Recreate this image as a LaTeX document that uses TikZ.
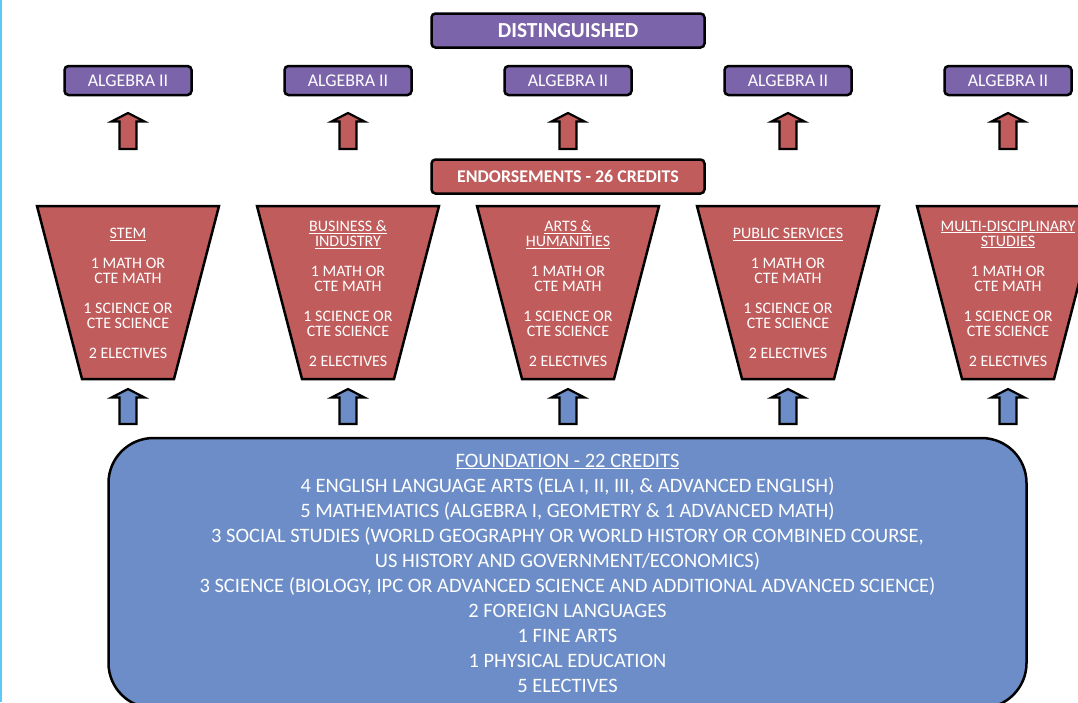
\documentclass[tikz,border=0pt]{standalone}
\usepackage{fontspec}
\setmainfont{Carlito}
\usetikzlibrary{positioning, calc}

\definecolor{distpurple}{HTML}{7B64AA}
\definecolor{endred}{HTML}{C05C5C}
\definecolor{foundblue}{HTML}{6C8DC7}
\definecolor{edgeblue}{HTML}{5BC8F5}

\tikzset{
  purplebox/.style={draw=black, line width=2.5pt, fill=distpurple, rounded corners=4pt, text=white},
  redbox/.style={draw=black, line width=2.5pt, fill=endred, rounded corners=4pt, text=white},
  funnel/.style={draw=black, line width=2.5pt, fill=endred, line join=miter},
  funneltext/.style={text=white, align=center, font=\fontsize{16}{15}\selectfont},
  blockarrow/.style={draw=black, line width=2.2pt, line join=miter},
  foundbox/.style={draw=black, line width=2.5pt, fill=foundblue, rounded corners=45pt, text=white, align=center, font=\fontsize{20.5}{25}\selectfont}
}

\begin{document}
\begin{tikzpicture}[x=1pt, y=-1pt]
    \useasboundingbox (0,0) rectangle (1078,702);
    \fill[edgeblue] (0,0) rectangle (2,702);

    \node (dist) [purplebox, minimum width=273pt, minimum height=34pt, font=\bfseries\fontsize{21.4}{22}\selectfont] at (568,30.5) {DISTINGUISHED};
    \node (endorse) [redbox, minimum width=273pt, minimum height=34pt, font=\bfseries\fontsize{17.9}{20}\selectfont] at (568,176.5) {ENDORSEMENTS - 26 CREDITS};

    \node (found) [foundbox, minimum width=918pt, minimum height=270pt] at (567.5,573) {\underline{FOUNDATION - 22 CREDITS}\\
      4 ENGLISH LANGUAGE ARTS (ELA I, II, III, \& ADVANCED ENGLISH)\\
      5 MATHEMATICS (ALGEBRA I, GEOMETRY \& 1 ADVANCED MATH)\\
      3 SOCIAL STUDIES (WORLD GEOGRAPHY OR WORLD HISTORY OR COMBINED COURSE,\\
      US HISTORY AND GOVERNMENT/ECONOMICS)\\
      3 SCIENCE (BIOLOGY, IPC OR ADVANCED SCIENCE AND ADDITIONAL ADVANCED SCIENCE)\\
      2 FOREIGN LANGUAGES\\
      1 FINE ARTS\\
      1 PHYSICAL EDUCATION\\
      5 ELECTIVES};

    \foreach \cx/\ttl [count=\i] in {
        128/{\underline{STEM}},
        348/{\underline{BUSINESS \&}\\\underline{INDUSTRY}},
        568/{\underline{ARTS \&}\\\underline{HUMANITIES}},
        788/{\underline{PUBLIC SERVICES}},
        1008/{\underline{MULTI-DISCIPLINARY}\\\underline{STUDIES}}} {
      % algebra box and red arrow
      \node (alg\i) [purplebox, minimum width=127pt, minimum height=29pt, font=\fontsize{17.9}{18}\selectfont] at (\cx,80.5) {ALGEBRA II};
      \draw[blockarrow, fill=endred] (\cx,113) -- ++(16.5,8.5) -- ++(-8,0) -- (\cx+8.5,149) -- (\cx-8.5,149) -- (\cx-8.5,121.5) -- ++(-8,0) -- cycle;
      % funnel
      \coordinate (fun\i) at (\cx,206);
      \draw[funnel] ($(fun\i)+(-91,0)$) -- ($(fun\i)+(91,0)$) -- ($(fun\i)+(46,173)$) -- ($(fun\i)+(-46,173)$) -- cycle;
      \node (end\i) [funneltext] at (\cx,293.5) {\ttl\\[15pt] 1 MATH OR\\CTE MATH\\[15pt] 1 SCIENCE OR\\CTE SCIENCE\\[15pt] 2 ELECTIVES};
      % blue arrow
      \draw[blockarrow, fill=foundblue] (\cx,389) -- ++(16.5,8.5) -- ++(-8,0) -- (\cx+8.5,424) -- (\cx-8.5,424) -- (\cx-8.5,397.5) -- ++(-8,0) -- cycle;
    }
\end{tikzpicture}
\end{document}
